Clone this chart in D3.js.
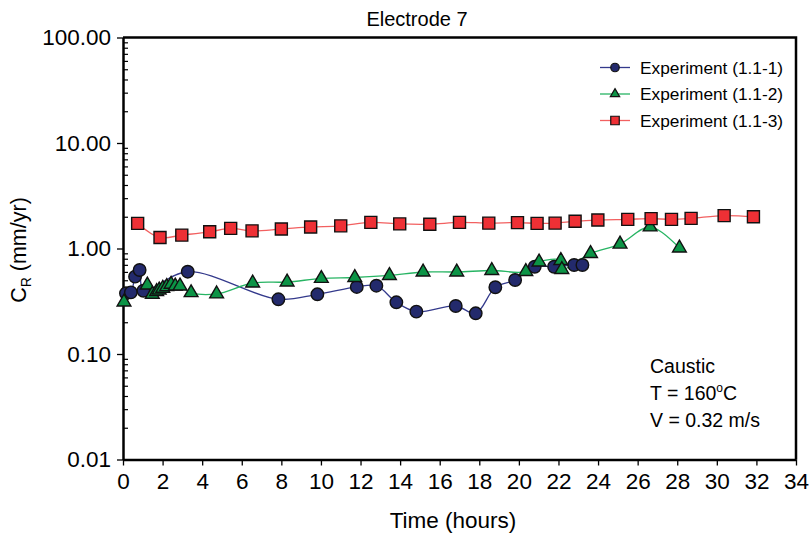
<!DOCTYPE html>
<html>
<head>
<meta charset="utf-8">
<script src="https://cdn.jsdelivr.net/npm/d3@7"></script>
<style>
  html, body { margin: 0; padding: 0; background: #fff; }
  svg { display: block; font-family: "Liberation Sans", Arial, Helvetica, sans-serif; }
</style>
</head>
<body>
<svg id="chart" width="812" height="536"></svg>
<script>
// Corrosion rate at electrode 7 over time, three experiment runs
const hours1 = [0.15, 0.40, 0.61, 0.84, 1.03, 3.27, 7.85, 9.82, 11.81, 12.80, 13.81, 14.82, 16.81, 17.82, 18.81, 19.81, 20.80, 21.78, 22.79, 23.21];
const rate1  = [0.376, 0.384, 0.541, 0.625, 0.398, 0.603, 0.330, 0.368, 0.432, 0.444, 0.309, 0.252, 0.285, 0.243, 0.429, 0.503, 0.672, 0.672, 0.698, 0.698];

const hours2 = [0.05, 1.23, 1.48, 1.70, 1.83, 2.01, 2.21, 2.43, 2.64, 2.88, 3.44, 4.73, 6.55, 8.29, 10.02, 11.71, 13.46, 15.16, 16.86, 18.63, 20.35, 21.02, 22.12, 22.17, 23.62, 25.11, 26.63, 28.11];
const rate2  = [0.311, 0.451, 0.368, 0.390, 0.404, 0.420, 0.435, 0.458, 0.441, 0.441, 0.381, 0.371, 0.471, 0.481, 0.520, 0.531, 0.555, 0.599, 0.599, 0.619, 0.605, 0.745, 0.770, 0.632, 0.897, 1.10, 1.60, 1.01];

const hours3 = [0.74, 1.87, 2.97, 4.38, 5.44, 6.52, 8.00, 9.48, 11.00, 12.52, 13.98, 15.50, 17.00, 18.48, 19.93, 20.92, 21.83, 22.84, 23.99, 25.50, 26.68, 27.71, 28.70, 30.37, 31.85];
const rate3  = [1.73, 1.27, 1.34, 1.44, 1.55, 1.47, 1.53, 1.60, 1.64, 1.77, 1.71, 1.70, 1.77, 1.74, 1.76, 1.73, 1.74, 1.81, 1.86, 1.89, 1.92, 1.89, 1.93, 2.05, 2.00];

const seriesNames = ["Experiment (1.1-1)", "Experiment (1.1-2)", "Experiment (1.1-3)"];
const xTicks = d3.range(0, 35, 2);
const yTicks = [0.01, 0.1, 1, 10, 100];
const notes = ["Caustic", "T = 160", "V = 0.32 m/s"];

const svg = d3.select("#chart");
const plotLeft = 123, plotRight = 796, plotTop = 37.5, plotBottom = 459.5;

const x = d3.scaleLinear().domain([0, 34]).range([plotLeft, plotRight]);
const y = d3.scaleLog().domain([0.01, 100]).range([plotBottom, plotTop]);

const styles = [
  { line: "#343a8c", fill: "#232a6c", shape: "circle" },
  { line: "#27b463", fill: "#0c9446", shape: "triangle" },
  { line: "#f26060", fill: "#ee3035", shape: "square" }
];

function markerPath(shape, s) {
  if (shape === "circle") {
    return d3.symbol(d3.symbolCircle, Math.PI * s * s / 4)();
  }
  if (shape === "square") {
    const h = s / 2;
    return `M${-h},${-h}H${h}V${h}H${-h}Z`;
  }
  const w = s * 1.1, ht = s * 0.95;
  return `M0,${-ht * 2 / 3}L${w / 2},${ht / 3}L${-w / 2},${ht / 3}Z`;
}

// Axes
const gx = svg.append("g")
  .attr("transform", `translate(0,${plotBottom})`)
  .call(d3.axisBottom(x).tickValues(xTicks).tickSize(6).tickSizeOuter(0).tickFormat(d3.format("d")));
gx.select(".domain").attr("stroke-width", 2.5);
gx.selectAll(".tick line").attr("stroke-width", 1.3);
gx.selectAll(".tick text").attr("font-size", 22.5).attr("dy", "0.92em").attr("fill", "#000");

const gy = svg.append("g")
  .attr("transform", `translate(${plotLeft},0)`)
  .call(d3.axisLeft(y).tickValues(yTicks).tickSize(6).tickSizeOuter(0).tickFormat(d3.format(".2f")));
gy.select(".domain").attr("stroke-width", 2.5);
gy.selectAll(".tick line").attr("stroke-width", 1.3);
gy.selectAll(".tick text").attr("font-size", 22.5).attr("x", -12).attr("fill", "#000");

// Minor ticks on the inner side of the log axis
const minors = [];
for (let e = -2; e < 2; e++) for (let k = 2; k <= 9; k++) minors.push(k * Math.pow(10, e));
const gm = svg.append("g")
  .attr("transform", `translate(${plotLeft},0)`)
  .call(d3.axisRight(y).tickValues(minors).tickSize(5).tickSizeOuter(0).tickFormat(""));
gm.select(".domain").remove();
gm.selectAll(".tick line").attr("stroke-width", 1.2);

// Frame top and right
svg.append("path")
  .attr("d", `M${plotLeft},${plotTop}H${plotRight}V${plotBottom}`)
  .attr("fill", "none").attr("stroke", "#000").attr("stroke-width", 2.5);

// Series
const datasets = [
  d3.zip(hours1, rate1),
  d3.zip(hours2, rate2),
  d3.zip(hours3, rate3)
];

const line = d3.line().x(d => x(d[0])).y(d => y(d[1])).curve(d3.curveCatmullRom.alpha(0.5));

datasets.forEach((data, i) => {
  svg.append("path")
    .attr("d", line(data))
    .attr("fill", "none")
    .attr("stroke", styles[i].line)
    .attr("stroke-width", 1.3);
});

const markSize = { circle: 12.5, triangle: 12.5, square: 12 };
datasets.forEach((data, i) => {
  svg.append("g").selectAll("path")
    .data(data)
    .join("path")
    .attr("transform", d => `translate(${x(d[0])},${y(d[1])})`)
    .attr("d", markerPath(styles[i].shape, markSize[styles[i].shape]))
    .attr("fill", styles[i].fill)
    .attr("stroke", "#111")
    .attr("stroke-width", 1.4);
});

// Legend
const legend = svg.append("g");
seriesNames.forEach((name, i) => {
  const ly = 67.5 + i * 26.5;
  legend.append("line")
    .attr("x1", 600).attr("x2", 630).attr("y1", ly).attr("y2", ly)
    .attr("stroke", styles[i].line).attr("stroke-width", 1.3);
  legend.append("path")
    .attr("transform", `translate(615,${ly})`)
    .attr("d", markerPath(styles[i].shape, 8.5))
    .attr("fill", styles[i].fill).attr("stroke", "#111").attr("stroke-width", 1.2);
  legend.append("text")
    .attr("x", 640).attr("y", ly).attr("dy", "0.36em")
    .attr("font-size", 17.3).text(name);
});

// Titles
svg.append("text").attr("x", 417).attr("y", 26).attr("text-anchor", "middle")
  .attr("font-size", 20).text("Electrode 7");
svg.append("text").attr("x", 453).attr("y", 528).attr("text-anchor", "middle")
  .attr("font-size", 22.5).text("Time (hours)");

const yl = svg.append("text")
  .attr("transform", "translate(26,250) rotate(-90)")
  .attr("text-anchor", "middle").attr("font-size", 21.5);
yl.append("tspan").text("C");
yl.append("tspan").attr("font-size", 14).attr("dy", 5).text("R");
yl.append("tspan").attr("dy", -5).text(" (mm/yr)");

// Test conditions
const ann = svg.append("g").attr("font-size", 19.5);
ann.append("text").attr("x", 650).attr("y", 373).text(notes[0]);
const t2 = ann.append("text").attr("x", 650).attr("y", 400);
t2.append("tspan").text(notes[1]);
t2.append("tspan").attr("font-size", 12).attr("dy", -8).text("o");
t2.append("tspan").attr("dy", 8).text("C");
ann.append("text").attr("x", 650).attr("y", 427).text(notes[2]);
</script>
</body>
</html>
